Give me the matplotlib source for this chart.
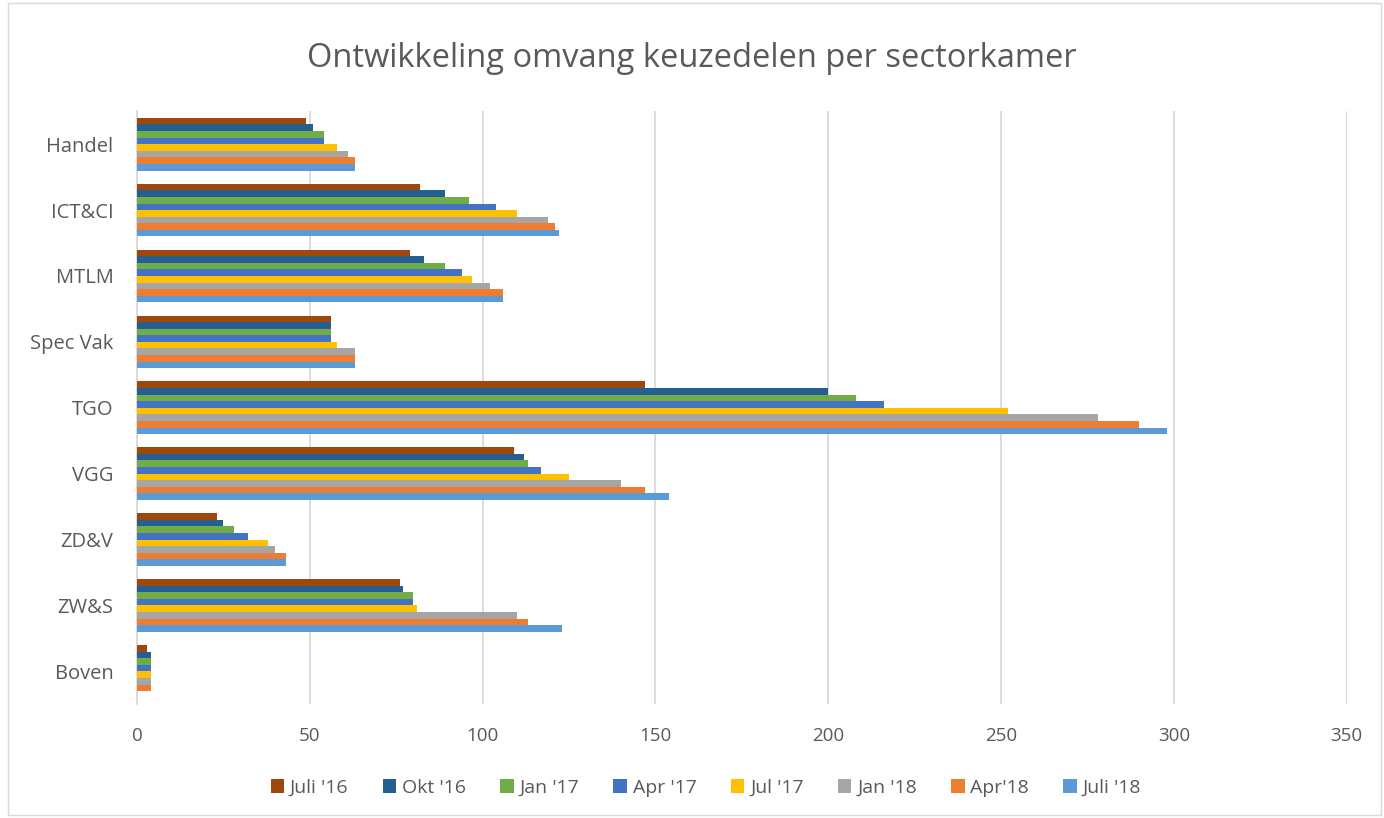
import numpy as np
import matplotlib.pyplot as plt
from matplotlib.patches import Rectangle

# --- data ---
categories = ["Handel", "ICT&CI", "MTLM", "Spec Vak", "TGO", "VGG", "ZD&V", "ZW&S", "Boven"]
series = ["Juli '16", "Okt '16", "Jan '17", "Apr '17", "Jul '17", "Jan '18", "Apr'18", "Juli '18"]

juli16 = [49, 82, 79, 56, 147, 109, 23, 76, 3]
okt16  = [51, 89, 83, 56, 200, 112, 25, 77, 4]
jan17  = [54, 96, 89, 56, 208, 113, 28, 80, 4]
apr17  = [54, 104, 94, 56, 216, 117, 32, 80, 4]
jul17  = [58, 110, 97, 58, 252, 125, 38, 81, 4]
jan18  = [61, 119, 102, 63, 278, 140, 40, 110, 4]
apr18  = [63, 121, 106, 63, 290, 147, 43, 113, 4]
juli18 = [63, 122, 106, 63, 298, 154, 43, 123, 0]

values = [juli16, okt16, jan17, apr17, jul17, jan18, apr18, juli18]
colors = ["#9E480E", "#255E91", "#70AD47", "#4472C4", "#FFC000", "#A5A5A5", "#ED7D31", "#5B9BD5"]

plt.rcParams['font.family'] = ['Open Sans', 'DejaVu Sans']
txt = "#595959"

fig = plt.figure(figsize=(13.84, 8.18), dpi=100)
ax = fig.add_axes([0.099, 0.139, 0.874, 0.725])

n = len(series)
bh = 0.1
y = np.arange(len(categories))
for i, (vals, c) in enumerate(zip(values, colors)):
    offs = (i - (n - 1) / 2) * bh
    ax.barh(y + offs, vals, height=bh, color=c, label=series[i], zorder=3)

ax.set_xlim(0, 350)
ax.set_ylim(len(categories) - 0.5, -0.5)
ax.set_xticks(np.arange(0, 351, 50))
ax.set_yticks(y)
ax.set_yticklabels(categories)
ax.grid(axis='x', color='#d9d9d9', linewidth=1.3, zorder=0)
for s in ['top', 'right', 'bottom']:
    ax.spines[s].set_visible(False)
ax.spines['left'].set_color('#d9d9d9')
ax.spines['left'].set_linewidth(1.3)
ax.tick_params(axis='x', length=0, labelsize=13.5, colors=txt, pad=16)
ax.tick_params(axis='y', length=0, labelsize=14.5, colors=txt, pad=17)

fig.text(0.5, 0.928, "Ontwikkeling omvang keuzedelen per sectorkamer",
         ha='center', va='center', fontsize=23.5, color=txt)

leg = fig.legend(loc='center', bbox_to_anchor=(0.51, 0.037), ncol=n, frameon=False,
                 fontsize=14, handlelength=0.7, handleheight=0.7, handletextpad=0.3,
                 columnspacing=1.75)
for t in leg.get_texts():
    t.set_color(txt)

fig.patches.append(Rectangle((0.006, 0.004), 0.992, 0.992, transform=fig.transFigure,
                             fill=False, edgecolor='#d9d9d9', linewidth=1))

fig.savefig("out.png", dpi=100)
